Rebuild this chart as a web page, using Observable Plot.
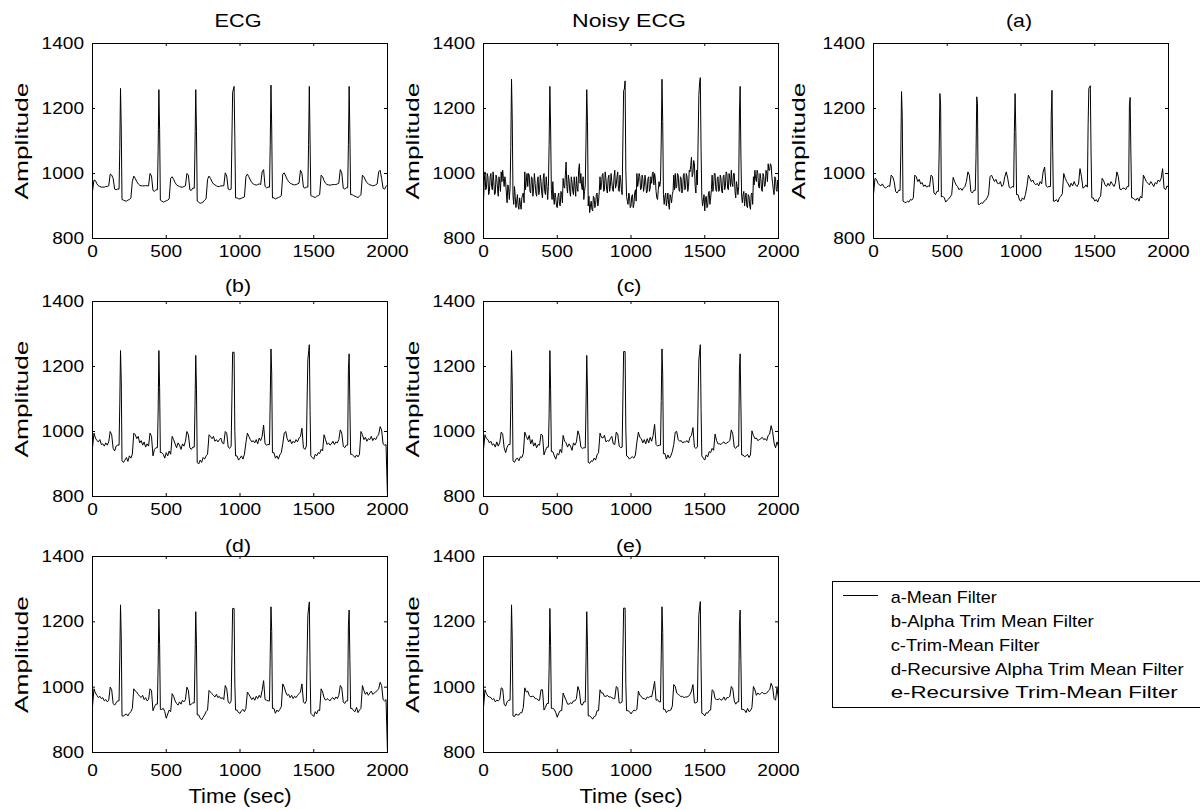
<!DOCTYPE html>
<html>
<head>
<meta charset="utf-8">
<script src="https://cdn.jsdelivr.net/npm/d3@7"></script>
<script src="https://cdn.jsdelivr.net/npm/@observablehq/plot@0.6"></script>
<style>
  body { margin: 0; background: #fff; }
  #fig { position: relative; width: 1200px; height: 810px; overflow: hidden; background: #fff;
         font-family: "Liberation Sans", Arial, Helvetica, sans-serif; }
  .panel { position: absolute; }
</style>
</head>
<body>
<div id="fig"></div>
<script>
// ---------------- data -------------
// main series: one sample every 10 time units; *Qrs: extra [time, value] points read on the QRS spikes
const sampleStep = 10;
const xTicks = [0, 500, 1000, 1500, 2000];
const yTicks = [800, 1000, 1200, 1400];
const panelTitles = ["ECG", "Noisy ECG", "(a)", "(b)", "(c)", "(d)", "(e)"];
const yLabel = "Amplitude";
const xLabel = "Time (sec)";
const legendLabels = [
  "a-Mean Filter",
  "b-Alpha Trim Mean Filter",
  "c-Trim-Mean Filter",
  "d-Recursive Alpha Trim Mean Filter",
  "e-Recursive Trim-Mean Filter"
];

const ecg = [
  945, 980, 978, 968, 962, 960, 958, 958, 958, 960,
  960, 962, 998, 995, 985, 952, 950, 952, 952, 1262,
  920, 918, 916, 915, 918, 920, 924, 975, 992, 985,
  975, 968, 964, 962, 962, 962, 963, 962, 962, 1000,
  992, 948, 945, 950, 950, 1258, 918, 915, 912, 914,
  916, 918, 922, 985, 990, 982, 972, 965, 962, 960,
  958, 958, 960, 962, 1000, 995, 950, 948, 955, 955,
  1258, 915, 912, 908, 910, 912, 918, 922, 982, 992,
  985, 975, 968, 965, 962, 960, 960, 962, 962, 962,
  1002, 992, 952, 950, 952, 1250, 1268, 925, 925, 922,
  922, 924, 926, 928, 990, 998, 990, 980, 972, 968,
  966, 964, 966, 968, 966, 1005, 1012, 960, 956, 958,
  958, 1272, 925, 925, 922, 924, 926, 928, 932, 998,
  1002, 992, 982, 975, 970, 968, 966, 965, 966, 968,
  970, 1010, 1000, 958, 955, 958, 958, 1268, 932, 930,
  928, 926, 930, 932, 935, 995, 990, 978, 970, 966,
  965, 964, 965, 966, 966, 966, 968, 970, 1012, 1002,
  955, 952, 956, 956, 1268, 935, 935, 932, 930, 928,
  926, 930, 935, 995, 990, 980, 972, 968, 965, 964,
  962, 963, 965, 968, 1005, 1010, 985, 955, 952, 960,
  965
];
const ecgQrs = [[185, 1080], [195, 1140], [445, 1070], [455, 1135], [695, 1085], [705, 1130],
  [945, 1100], [965, 1110], [1205, 1090], [1215, 1140], [1465, 1090], [1475, 1100], [1735, 1090], [1745, 1120]];

const noisyEcg = [
  915, 1005, 955, 990, 945, 1000, 950, 975, 940, 985,
  930, 970, 1005, 1010, 960, 975, 910, 955, 955, 1290,
  930, 960, 895, 935, 890, 905, 925, 940, 1005, 975,
  960, 995, 940, 985, 955, 970, 930, 990, 950, 975,
  925, 1000, 935, 960, 960, 1268, 950, 975, 905, 925,
  895, 940, 900, 935, 985, 955, 1035, 940, 980, 930,
  975, 935, 960, 990, 945, 1030, 1000, 950, 920, 965,
  1258, 900, 880, 915, 885, 925, 905, 940, 915, 990,
  965, 1000, 950, 985, 940, 995, 960, 975, 945, 1010,
  965, 1005, 945, 980, 935, 1255, 1285, 930, 905, 930,
  900, 935, 905, 950, 1000, 975, 990, 955, 985, 960,
  975, 945, 990, 955, 970, 1005, 1000, 945, 920, 975,
  975, 1290, 935, 930, 900, 940, 890, 925, 935, 995,
  1000, 960, 995, 945, 985, 950, 1000, 955, 990, 960,
  1005, 1050, 1000, 1030, 940, 965, 1240, 1295, 930, 915,
  885, 930, 900, 945, 925, 995, 960, 1000, 945, 990,
  950, 985, 940, 995, 960, 1000, 950, 985, 1010, 960,
  1000, 925, 960, 960, 1268, 930, 935, 900, 940, 895,
  930, 890, 940, 990, 1010, 975, 1000, 955, 985, 945,
  990, 965, 1000, 1030, 1010, 1025, 970, 935, 985, 945,
  975
];
// noisy ECG samples half-way between the main ones (t = 5, 15, ..., 1995)
const noisyEcgMid = [
  975, 950, 1000, 935, 990, 960, 1005, 935, 995, 955,
  990, 945, 975, 985, 990, 940, 965, 920, 1080, 1165,
  905, 930, 915, 900, 925, 890, 935, 910, 950, 1000,
  1000, 945, 990, 930, 1000, 940, 975, 935, 995, 940,
  985, 945, 990, 920, 1090, 1140, 920, 925, 940, 900,
  930, 905, 945, 910, 960, 995, 960, 995, 945, 990,
  945, 990, 930, 955, 1010, 970, 960, 990, 945, 1100,
  1160, 930, 900, 890, 930, 895, 935, 900, 945, 950,
  995, 945, 1005, 950, 985, 945, 1000, 950, 990, 955,
  990, 950, 995, 950, 1100, 1260, 1010, 915, 940, 895,
  930, 895, 940, 915, 960, 1000, 950, 995, 945, 995,
  940, 985, 945, 990, 1000, 965, 985, 925, 950, 960,
  1100, 1160, 905, 940, 920, 905, 935, 910, 945, 950,
  955, 1000, 950, 990, 940, 995, 950, 1000, 945, 1010,
  1025, 990, 1040, 960, 1010, 1100, 1280, 1070, 900, 935,
  925, 895, 940, 905, 950, 945, 1000, 950, 985, 945,
  995, 945, 990, 950, 1005, 955, 1000, 960, 970, 1000,
  945, 975, 935, 1180, 1060, 910, 945, 925, 900, 935,
  900, 935, 905, 965, 985, 1010, 960, 1000, 950, 1000,
  960, 1010, 975, 1010, 1030, 990, 950, 990, 950, 980
];

const meanFilter = [
  935, 985, 982, 970, 965, 962, 968, 960, 955, 958,
  962, 960, 995, 990, 975, 945, 940, 948, 948, 1252,
  915, 912, 910, 915, 912, 920, 918, 925, 995, 990,
  975, 982, 968, 972, 960, 965, 958, 962, 960, 995,
  990, 940, 935, 945, 945, 1246, 928, 930, 925, 912,
  918, 922, 928, 935, 988, 975, 965, 960, 950, 955,
  948, 955, 960, 975, 1005, 995, 945, 940, 948, 948,
  1236, 905, 905, 910, 908, 915, 918, 925, 935, 990,
  995, 985, 975, 982, 970, 968, 975, 960, 965, 990,
  1005, 985, 958, 955, 960, 958, 1246, 935, 935, 918,
  915, 925, 920, 935, 960, 995, 985, 975, 980, 970,
  965, 970, 962, 975, 968, 1005, 1020, 962, 958, 960,
  960, 1256, 915, 915, 920, 912, 925, 930, 938, 1000,
  985, 975, 968, 958, 970, 962, 975, 965, 960, 968,
  1015, 990, 955, 958, 965, 958, 1262, 1270, 925, 925,
  915, 920, 912, 925, 930, 985, 978, 965, 960, 970,
  962, 975, 968, 960, 970, 1005, 990, 952, 950, 955,
  955, 950, 960, 960, 1234, 925, 925, 920, 918, 925,
  915, 930, 925, 995, 985, 975, 970, 965, 975, 968,
  960, 972, 968, 980, 975, 985, 1015, 955, 950, 962,
  958
];
const meanQrs = [[185, 1060], [195, 1175], [445, 1060], [455, 1210], [695, 1050], [705, 1215],
  [955, 1130], [965, 1125], [1205, 1180], [1215, 1070], [1455, 1150], [1475, 1060], [1735, 1210], [1745, 1060]];

const alphaTrimMean = [
  950, 995, 980, 972, 968, 975, 960, 962, 955, 965,
  958, 968, 1000, 990, 948, 940, 955, 958, 958, 1249,
  910, 905, 912, 920, 908, 925, 918, 930, 995, 990,
  978, 985, 965, 972, 958, 968, 952, 962, 955, 995,
  985, 925, 945, 950, 950, 1249, 935, 935, 930, 918,
  935, 925, 940, 930, 985, 975, 962, 950, 965, 958,
  945, 962, 955, 970, 1000, 990, 950, 945, 952, 952,
  1234, 905, 900, 912, 905, 920, 915, 925, 930, 990,
  985, 978, 985, 970, 975, 968, 975, 980, 965, 962,
  1000, 995, 952, 948, 955, 1244, 1244, 925, 925, 912,
  918, 925, 915, 930, 965, 995, 985, 975, 968, 972,
  965, 975, 962, 980, 972, 985, 1020, 962, 958, 960,
  960, 1254, 935, 935, 918, 925, 915, 928, 935, 962,
  995, 1000, 978, 968, 975, 962, 970, 965, 975, 968,
  980, 985, 1010, 950, 945, 955, 1220, 1267, 925, 920,
  915, 930, 925, 935, 932, 945, 940, 990, 975, 960,
  965, 958, 962, 970, 960, 968, 965, 975, 1005, 995,
  955, 950, 958, 958, 1239, 930, 930, 925, 920, 928,
  922, 930, 1000, 990, 975, 982, 970, 978, 975, 985,
  972, 980, 975, 985, 990, 1015, 1005, 962, 958, 960,
  800
];
const alphaQrs = [[185, 1085], [195, 1155], [445, 1060], [455, 1135], [695, 1080], [705, 1130],
  [945, 1100], [965, 1000], [1205, 1100], [1215, 1180], [1455, 1100], [1475, 1064], [1735, 1190], [1745, 1080]];

const trimMean = [
  945, 990, 978, 975, 965, 970, 958, 962, 952, 968,
  955, 965, 998, 992, 950, 935, 952, 960, 960, 1249,
  910, 905, 915, 918, 910, 922, 920, 932, 998, 985,
  975, 988, 962, 975, 955, 965, 950, 960, 958, 992,
  988, 928, 942, 952, 952, 1249, 938, 938, 925, 915,
  932, 928, 945, 935, 988, 970, 965, 952, 962, 955,
  942, 965, 958, 968, 1002, 988, 952, 948, 950, 950,
  1234, 905, 902, 910, 908, 918, 912, 928, 935, 995,
  982, 980, 988, 968, 972, 970, 978, 985, 962, 960,
  998, 992, 955, 950, 952, 1246, 1246, 925, 922, 915,
  920, 922, 918, 928, 968, 998, 982, 978, 965, 975,
  962, 978, 965, 982, 970, 988, 1022, 960, 955, 958,
  958, 1254, 932, 932, 915, 928, 918, 925, 938, 960,
  998, 1000, 975, 970, 972, 965, 968, 968, 972, 965,
  982, 988, 1012, 952, 948, 952, 1220, 1267, 925, 918,
  912, 928, 922, 938, 935, 948, 942, 992, 972, 962,
  962, 960, 965, 968, 962, 965, 968, 972, 1005, 992,
  952, 948, 955, 955, 1239, 928, 928, 922, 925, 930,
  920, 928, 1002, 988, 978, 980, 972, 975, 978, 982,
  975, 978, 972, 988, 992, 1018, 1000, 965, 950, 968,
  955
];
const trimQrs = [[185, 1080], [195, 1150], [445, 1055], [455, 1130], [695, 1075], [705, 1125],
  [945, 1100], [965, 1005], [1205, 1095], [1215, 1175], [1455, 1100], [1475, 1068], [1735, 1190], [1745, 1085]];

const recAlphaTrimMean = [
  940, 995, 982, 975, 968, 972, 965, 968, 958, 962,
  955, 960, 1000, 992, 950, 945, 952, 958, 958, 1252,
  912, 912, 915, 918, 912, 920, 925, 935, 995, 988,
  985, 978, 972, 968, 975, 962, 968, 958, 962, 995,
  990, 928, 940, 948, 948, 1239, 932, 932, 935, 925,
  905, 918, 930, 925, 980, 972, 958, 950, 945, 955,
  948, 960, 955, 962, 1000, 990, 945, 948, 952, 952,
  1231, 915, 915, 905, 900, 908, 915, 925, 930, 990,
  985, 980, 975, 970, 978, 968, 972, 965, 968, 962,
  1005, 995, 955, 950, 958, 1241, 1241, 930, 930, 922,
  920, 928, 932, 925, 935, 985, 978, 970, 962, 968,
  960, 972, 965, 975, 968, 990, 1020, 962, 960, 958,
  958, 1246, 935, 935, 920, 930, 925, 932, 940, 1010,
  1000, 985, 975, 978, 968, 975, 965, 972, 968, 975,
  980, 985, 1010, 955, 950, 958, 1220, 1261, 920, 915,
  910, 925, 918, 930, 928, 995, 985, 968, 960, 965,
  962, 958, 965, 968, 962, 970, 965, 975, 1005, 998,
  955, 950, 958, 958, 1236, 935, 935, 928, 925, 938,
  922, 930, 935, 1005, 990, 978, 985, 975, 982, 988,
  978, 982, 985, 990, 995, 1015, 1005, 962, 958, 962,
  800
];
const recAlphaQrs = [[185, 1090], [195, 1150], [445, 1065], [455, 1130], [695, 1080], [705, 1130],
  [945, 1100], [965, 1010], [1205, 1100], [1215, 1170], [1455, 1100], [1475, 1060], [1735, 1190], [1745, 1085]];

const recTrimMean = [
  938, 992, 980, 972, 970, 968, 962, 965, 955, 960,
  958, 962, 998, 995, 948, 942, 955, 960, 960, 1252,
  912, 910, 918, 915, 915, 922, 922, 938, 998, 985,
  988, 975, 970, 972, 972, 965, 965, 960, 960, 992,
  992, 930, 938, 950, 950, 1241, 935, 935, 932, 922,
  908, 920, 928, 928, 982, 970, 960, 948, 948, 952,
  950, 958, 958, 965, 1002, 988, 948, 945, 955, 955,
  1231, 912, 912, 908, 902, 910, 912, 928, 928, 992,
  982, 982, 972, 972, 975, 970, 970, 968, 965, 965,
  1002, 998, 952, 952, 955, 1242, 1242, 928, 928, 925,
  918, 925, 930, 928, 932, 988, 975, 972, 965, 965,
  962, 970, 968, 972, 970, 992, 1018, 960, 962, 955,
  955, 1246, 932, 932, 922, 928, 928, 930, 942, 1008,
  1002, 982, 978, 975, 970, 972, 968, 970, 970, 972,
  978, 988, 1008, 952, 952, 955, 1222, 1262, 920, 918,
  912, 922, 920, 928, 930, 992, 988, 965, 962, 962,
  965, 960, 962, 970, 960, 968, 968, 972, 1002, 995,
  958, 948, 955, 955, 1236, 932, 932, 930, 922, 935,
  925, 928, 938, 1002, 992, 975, 982, 978, 980, 985,
  980, 980, 982, 988, 992, 1012, 1000, 965, 960, 998,
  965
];
const recTrimQrs = [[185, 1085], [195, 1148], [445, 1060], [455, 1128], [695, 1078], [705, 1128],
  [945, 1100], [965, 1008], [1205, 1098], [1215, 1168], [1455, 1100], [1475, 1062], [1735, 1188], [1745, 1082]];

// ---------------- tables built from the arrays ----------------
function buildTable(values, extra) {
  const rows = values.map((v, i) => ({t: i * sampleStep, v}));
  extra.forEach(([t, v]) => rows.push({t, v}));
  return rows.sort((a, b) => a.t - b.t);
}
const noisyMidPairs = noisyEcgMid.map((v, i) => [i * sampleStep + sampleStep / 2, v]);
const tables = [
  buildTable(ecg, ecgQrs),
  buildTable(noisyEcg, noisyMidPairs),
  buildTable(meanFilter, meanQrs),
  buildTable(alphaTrimMean, alphaQrs),
  buildTable(trimMean, trimQrs),
  buildTable(recAlphaTrimMean, recAlphaQrs),
  buildTable(recTrimMean, recTrimQrs)
];
const gridCell = [[0, 0], [1, 0], [2, 0], [0, 1], [1, 1], [0, 2], [1, 2]]; // [col, row]

// ---------------- layout (pixels) ----------------
const colLeft = [92, 482.7, 872.7];
const rowTop = [43.3, 301, 555.7];
const frameW = 295;
const frameH = [195, 195, 196];
const titleGap = [17, 10, 5];
const yLabelOffset = [71, 71, 75];
const xTickPad = [6, 6, 11];
const M = {left: 80, right: 15, top: 40};
const font = '"Liberation Sans", Arial, Helvetica, sans-serif';
const textWidth = {"ECG": 47, "Noisy ECG": 114, "Amplitude": 117, "Time (sec)": 103};

const fig = document.getElementById("fig");

function stretchTexts(svg) {
  svg.querySelectorAll("text").forEach(t => {
    const s = t.textContent;
    const L = t.getComputedTextLength();
    if (!L) return;
    let w;
    if (textWidth[s] != null) w = textWidth[s];
    else if (/^\d+$/.test(s)) w = L * 1.12;
    else w = L * 1.15;
    t.setAttribute("textLength", w.toFixed(1));
    t.setAttribute("lengthAdjust", "spacingAndGlyphs");
  });
}

tables.forEach((data, k) => {
  const [col, row] = gridCell[k];
  const fh = frameH[row];
  const mBottom = row === 2 ? 58 : 30;
  const inner = xTicks.slice(1, -1);
  const innerY = yTicks.slice(1, -1);
  const marks = [
    Plot.line(data, {x: "t", y: "v", stroke: "black", strokeWidth: 1, clip: true}),
    Plot.frame({stroke: "black", strokeWidth: 1}),
    Plot.tickX(inner, {x: d => d, stroke: "black", insetTop: fh - 3}),
    Plot.tickX(inner, {x: d => d, stroke: "black", insetBottom: fh - 3}),
    Plot.tickY(innerY, {y: d => d, stroke: "black", insetRight: frameW - 3}),
    Plot.tickY(innerY, {y: d => d, stroke: "black", insetLeft: frameW - 3}),
    Plot.axisX({ticks: xTicks, tickSize: 0, tickPadding: xTickPad[row], tickFormat: "d", label: null, fontSize: 17}),
    Plot.axisY({ticks: yTicks, tickSize: 0, tickPadding: 8.5, tickFormat: "d", label: null, fontSize: 17}),
    Plot.text([panelTitles[k]], {text: d => d, frameAnchor: "top", textAnchor: "middle", lineAnchor: "bottom",
      dy: -titleGap[row], dx: -2, fontSize: 18.5, fill: "black"}),
    Plot.text([yLabel], {text: d => d, frameAnchor: "left", textAnchor: "middle", lineAnchor: "middle",
      rotate: -90, dx: -yLabelOffset[col], fontSize: 19, fill: "black"})
  ];
  if (row === 2) {
    marks.push(Plot.text([xLabel], {text: d => d, frameAnchor: "bottom", textAnchor: "middle", lineAnchor: "bottom",
      dy: 50, fontSize: 21, fill: "black"}));
  }
  const svg = Plot.plot({
    width: M.left + frameW + M.right,
    height: M.top + fh + mBottom,
    marginLeft: M.left, marginRight: M.right, marginTop: M.top, marginBottom: mBottom,
    x: {domain: [0, 2000]},
    y: {domain: [800, 1400]},
    style: {background: "none", fontFamily: font, fontSize: "17px", color: "black", overflow: "visible"},
    marks
  });
  const div = document.createElement("div");
  div.className = "panel";
  div.style.left = (colLeft[col] - M.left) + "px";
  div.style.top = (rowTop[row] - M.top) + "px";
  div.style.width = (M.left + frameW + M.right) + "px";
  div.appendChild(svg);
  fig.appendChild(div);
  stretchTexts(svg);
});

// ---------------- legend ----------------
const legendWidths = [106, 203, 149, 293, 287];
const leg = d3.select(fig).append("svg")
  .attr("width", 1200 - 832).attr("height", 130)
  .style("position", "absolute").style("left", "832px").style("top", "581px")
  .style("font-family", font);
leg.append("rect").attr("x", 0.5).attr("y", 0.5).attr("width", 500).attr("height", 126)
  .attr("fill", "white").attr("stroke", "black");
leg.append("line").attr("x1", 11).attr("x2", 46).attr("y1", 14.5).attr("y2", 14.5).attr("stroke", "black");
legendLabels.forEach((s, i) => {
  leg.append("text").attr("x", 58.7).attr("y", 22.3 + i * 23.75).attr("font-size", 17).attr("fill", "black")
    .attr("textLength", legendWidths[i]).attr("lengthAdjust", "spacingAndGlyphs").text(s);
});
</script>
</body>
</html>
